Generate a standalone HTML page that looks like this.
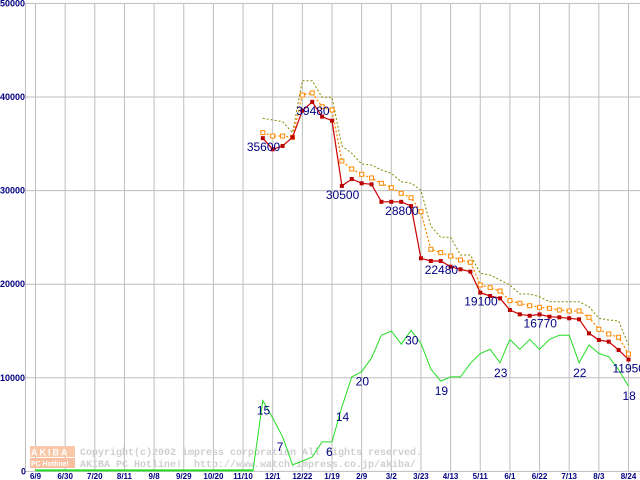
<!DOCTYPE html>
<html><head><meta charset="utf-8"><style>
body{margin:0;background:#fff;}
svg{display:block;font-family:"Liberation Sans",sans-serif;}
</style></head><body>
<svg id="chart" width="640" height="480" viewBox="0 0 640 480" xmlns="http://www.w3.org/2000/svg">
<g id="grid"></g>
<g id="axes"></g>
<g id="watermark">
  <rect x="30" y="446" width="45" height="11" fill="#f8c8a8"/>
  <rect x="30" y="458" width="45" height="10" fill="#f8c0a0"/>
  <text x="31" y="455.5" font-size="9" font-weight="bold" fill="#fff" letter-spacing="2">AKIBA</text>
  <text x="31" y="466" font-size="7" font-weight="bold" fill="#fff">PC Hotline!</text>
  <text x="80" y="455" font-size="10" font-weight="bold" fill="#cfcfcf" font-family="Liberation Mono, monospace">Copyright(c)2002 impress corporation All rights reserved.</text>
  <text x="80" y="467" font-size="10" font-weight="bold" fill="#cfcfcf" font-family="Liberation Mono, monospace" xml:space="preserve">AKIBA PC Hotline!  http://www.watch.impress.co.jp/akiba/</text>
</g>
<g id="series"></g>
<g id="labels"></g>
</svg>
<script>
const xTickLabels=["6/9","6/30","7/20","8/11","9/8","9/29","10/20","11/10","12/1","12/22","1/19","2/9","3/2","3/23","4/13","5/11","6/1","6/22","7/13","8/3","8/24"];
const yTickValues=[0,10000,20000,30000,40000,50000];
const priceStartWeek=23;
const minPrice=[35600,34410,34770,35690,38540,39480,37900,37470,30500,31240,30780,30670,28800,28800,28800,28350,22770,22480,22480,21870,21590,21340,19100,18740,18490,17240,16780,16630,16770,16530,16460,16360,16250,14750,14040,13860,12970,11950];
const avgPrice=[36190,35830,35830,35690,40210,40430,38960,38610,33160,32310,31740,31350,30780,30310,29710,29240,27750,23730,23370,23010,22590,22340,19910,19630,19270,18240,17960,17700,17530,17420,17240,17140,17140,16460,15180,14680,14330,12540];
const maxPrice=[37720,37540,37360,36190,41740,41740,39970,39970,34770,33980,32840,32730,32200,31850,30950,30780,30060,26220,25010,25010,23120,23120,21160,20980,20450,19910,18950,18950,18660,18130,18130,18130,18130,17600,16360,16170,16070,13500];
const shopStartWeek=22;
const shopCount=[0,15.1,11.4,7.4,1.4,2.2,3.1,6.3,6.3,13.8,20.2,21.3,24.2,29.1,30,27.2,30.1,27.4,21.9,19.3,20.2,20.2,23.1,25.2,26.1,23.2,28.2,26.1,28.2,26.1,28.2,29.1,29.1,23.2,27,25.2,24.5,21.7,18.2];
const priceLabels=[[0,"35600"],[5,"39480"],[8,"30500"],[14,"28800"],[18,"22480"],[22,"19100"],[28,"16770"],[37,"11950"]];
const countLabels=[[1,"15"],[3,"7"],[8,"6"],[9,"14"],[11,"20"],[16,"30"],[19,"19"],[25,"23"],[33,"22"],[38,"18"]];

const NS="http://www.w3.org/2000/svg";
const X0=35.5, GW=29.65, WEEK=GW/3, Y0=471.4, YS=93.6/10000, CNT=500;
const xw=w=>X0+w*WEEK;
const yv=v=>Y0-v*YS;
function mk(tag,parent,attrs){const e=document.createElementNS(NS,tag);for(const k in attrs)e.setAttribute(k,attrs[k]);parent.appendChild(e);return e;}
const grid=document.getElementById('grid'),axes=document.getElementById('axes'),ser=document.getElementById('series'),lab=document.getElementById('labels');

yTickValues.forEach(v=>{
  const l=mk('line',grid,{x1:25,x2:640,y1:yv(v),y2:yv(v),stroke:'#bdbdbd','stroke-width':1});
  
  
  const t=mk('text',axes,{x:v===0?21:0,y:yv(v)+3,'font-size':9,'font-weight':'bold',fill:'#000080'});
  t.textContent=String(v);
  
  
});
xTickLabels.forEach((s,i)=>{
  const x=X0+i*GW;
  const l=mk('line',grid,{x1:x,x2:x,y1:4,y2:471,stroke:'#bdbdbd','stroke-width':1});
  
  
  const t=mk('text',axes,{x:x,y:479,'font-size':8,'font-weight':'bold',fill:'#000080','text-anchor':'middle'});
  t.textContent=s;
  
  
});
const ax=mk('line',axes,{x1:25.5,x2:25.5,y1:4,y2:471,stroke:'#bdbdbd'});



function poly(arr,start,scale,attrs,name){
  const pts=arr.map((v,i)=>xw(start+i).toFixed(1)+','+yv(v*scale).toFixed(1)).join(' ');
  const p=mk('polyline',ser,Object.assign({points:pts,fill:'none'},attrs));
  
  
}
poly(shopCount,shopStartWeek,CNT,{stroke:'#22dd22','stroke-width':1},'shop-count-line');
const z=mk('line',ser,{x1:X0,x2:xw(shopStartWeek),y1:yv(0)-1,y2:yv(0)-1,stroke:'#22dd22','stroke-width':2});


poly(maxPrice,priceStartWeek,1,{stroke:'#888800','stroke-width':1,'stroke-dasharray':'2,2'},'max-price-line');
poly(avgPrice,priceStartWeek,1,{stroke:'#ff8800','stroke-width':1.3,'stroke-dasharray':'2,2'},'avg-price-line');
avgPrice.forEach((v,i)=>{
  const r=mk('rect',ser,{x:xw(priceStartWeek+i)-2,y:yv(v)-2,width:4,height:4,fill:'#fff',stroke:'#ff8800','stroke-width':1});
  
  
});
poly(minPrice,priceStartWeek,1,{stroke:'#cc0000','stroke-width':1.2},'min-price-line');
minPrice.forEach((v,i)=>{
  const r=mk('rect',ser,{x:xw(priceStartWeek+i)-2,y:yv(v)-2,width:4,height:4,fill:'#bb0000'});
  
  
});
priceLabels.forEach(([i,s])=>{
  const x=xw(priceStartWeek+i), y=yv(minPrice[i]);
  const t=mk('text',lab,{x:x-16,y:y+13,'font-size':12,fill:'#000080'});
  t.textContent=s;
  
  
});
countLabels.forEach(([i,s])=>{
  const x=xw(shopStartWeek+i), y=yv(shopCount[i]*CNT);
  const t=mk('text',lab,{x:x-6,y:y+14,'font-size':12,fill:'#000080'});
  t.textContent=s;
  
  
});
</script>
</body></html>
